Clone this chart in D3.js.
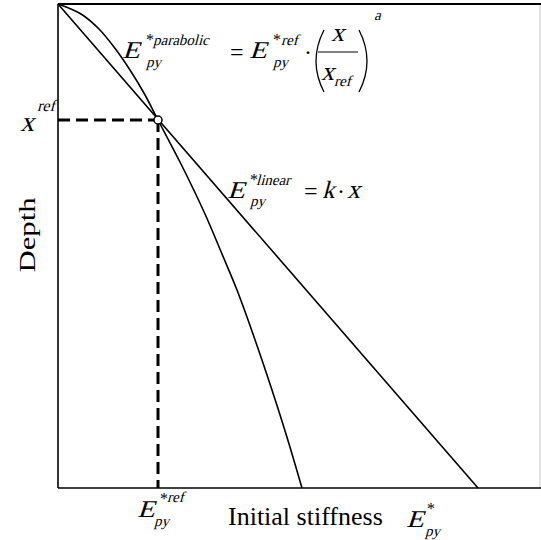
<!DOCTYPE html>
<html>
<head>
<meta charset="utf-8">
<script src="https://cdn.jsdelivr.net/npm/d3@7"></script>
<style>
  html, body { margin: 0; padding: 0; background: #fff; }
  svg { display: block; }
  text { font-family: "Liberation Serif", "Times New Roman", serif; fill: #000; }
</style>
</head>
<body>
<svg id="chart" width="541" height="540"></svg>
<script>
// ---- data (abstract units) ----
const linearDepth = [0, 484];
const linearE = [0, 420];
const parabolicDepth = [0, 10, 25, 45, 66, 90, 116, 160, 210, 250, 286, 330, 380, 430, 484];
const parabolicE     = [0, 23, 41, 57.5, 72, 86.5, 100, 123, 147, 164, 179, 195, 212, 228, 244];
const refE = [100];
const refDepth = [116];
const axisTitles = ["Initial stiffness", "Depth"];

const svg = d3.select("#chart");
const x = d3.scaleLinear().domain([0, 482]).range([58, 540]);
const y = d3.scaleLinear().domain([0, 484]).range([4, 488]);

// frame
svg.append("line").attr("x1", x(482)).attr("x2", x(482)).attr("y1", y(0)).attr("y2", y(484))
  .attr("stroke", "#c8c8c8").attr("stroke-width", 1);
svg.append("line").attr("x1", x(0)).attr("x2", 541).attr("y1", y(0)).attr("y2", y(0))
  .attr("stroke", "#000").attr("stroke-width", 2);
svg.append("line").attr("x1", x(0)).attr("x2", 541).attr("y1", y(484)).attr("y2", y(484))
  .attr("stroke", "#000").attr("stroke-width", 1.6);
svg.append("line").attr("x1", x(0)).attr("x2", x(0)).attr("y1", y(0)).attr("y2", y(484))
  .attr("stroke", "#000").attr("stroke-width", 1.6);

// dashed reference lines
svg.append("line").attr("x1", x(0)).attr("x2", x(refE[0])).attr("y1", y(refDepth[0])).attr("y2", y(refDepth[0]))
  .attr("stroke", "#000").attr("stroke-width", 3).attr("stroke-dasharray", "12,6");
svg.append("line").attr("x1", x(refE[0])).attr("x2", x(refE[0])).attr("y1", y(refDepth[0])).attr("y2", y(484))
  .attr("stroke", "#000").attr("stroke-width", 3).attr("stroke-dasharray", "12,6");

// curves
const line = d3.line().x(d => x(d[0])).y(d => y(d[1]));
svg.append("path").datum(linearE.map((e, i) => [e, linearDepth[i]]))
  .attr("d", line).attr("fill", "none").attr("stroke", "#000").attr("stroke-width", 1.6);
svg.append("path").datum(parabolicE.map((e, i) => [e, parabolicDepth[i]]))
  .attr("d", line.curve(d3.curveCatmullRom.alpha(0.5))).attr("fill", "none")
  .attr("stroke", "#000").attr("stroke-width", 1.6);

// reference point
svg.append("circle").attr("cx", x(refE[0])).attr("cy", y(refDepth[0])).attr("r", 4)
  .attr("fill", "#fff").attr("stroke", "#000").attr("stroke-width", 1.5);

// text helper: italic drawn as slanted serif
function t(txt, px, py, size, italic, sx) {
  const el = svg.append("text").attr("x", 0).attr("y", 0).attr("font-size", size).text(txt);
  let tr = `translate(${px},${py})`;
  if (sx) tr += ` scale(${sx},1)`;
  if (italic) tr += " skewX(-15)";
  el.attr("transform", tr);
  return el;
}

// parabolic formula
t("E", 122, 58, 24, true, 1.2);
t("*", 146, 45, 16, false);
t("parabolic", 153, 45, 15, true);
t("py", 146, 67, 15, true);
t("=", 230, 60, 24, false);
t("E", 249, 58, 24, true, 1.2);
t("*", 273, 45, 16, false);
t("ref", 281, 45, 15, true);
t("py", 273, 67, 15, true);
t("·", 304, 60, 24, false);
svg.append("path").attr("d", "M324,30 Q308,61 324,92").attr("fill", "none").attr("stroke", "#000").attr("stroke-width", 1.3);
svg.append("path").attr("d", "M359,30 Q375,61 359,92").attr("fill", "none").attr("stroke", "#000").attr("stroke-width", 1.3);
t("x", 331, 41, 26, true);
svg.append("line").attr("x1", 318).attr("x2", 358).attr("y1", 52).attr("y2", 52).attr("stroke", "#000").attr("stroke-width", 1.2);
t("x", 321, 80, 26, true);
t("ref", 334, 86, 15, true);
t("a", 374, 20, 15, true);

// linear formula
t("E", 227, 198, 24, true, 1.2);
t("*", 250, 185, 16, false);
t("linear", 256, 185, 15, true);
t("py", 250, 206, 15, true);
t("=", 304, 199, 24, false);
t("k", 322, 198, 25, true);
t("·", 337, 199, 24, false);
t("x", 347, 198, 26, true);

// x^ref on depth axis
t("x", 20, 131, 28, true);
t("ref", 37, 111, 16, true);

// E*ref on stiffness axis
t("E", 137, 517, 24, true, 1.2);
t("*", 160, 504, 16, false);
t("ref", 167, 502, 15, true);
t("py", 154, 526, 15, true);

// axis titles
t(axisTitles[0], 228, 525, 26, false);
svg.append("text").attr("text-anchor", "middle").attr("font-size", 24)
  .attr("textLength", 75).attr("lengthAdjust", "spacingAndGlyphs")
  .attr("transform", "translate(35,235) rotate(-90)").text(axisTitles[1]);

// E*py at end of stiffness axis
t("E", 406, 527, 24, true, 1.2);
t("*", 427, 514, 16, false);
t("py", 425, 536, 15, true);
</script>
</body>
</html>
